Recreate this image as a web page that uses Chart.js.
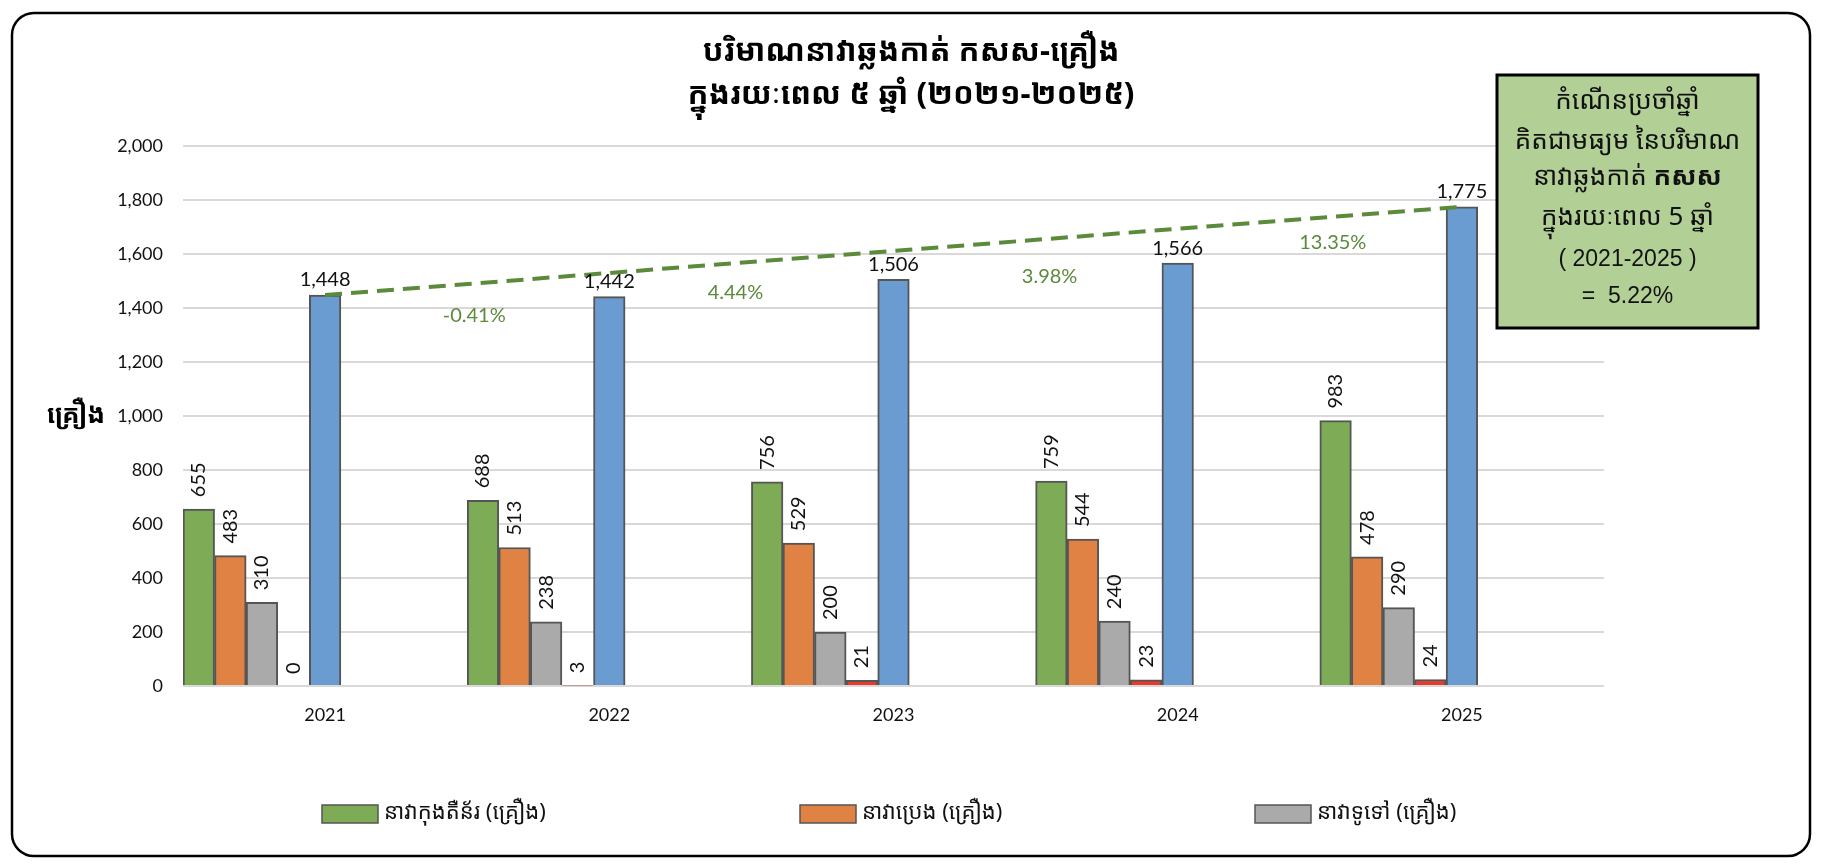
<!DOCTYPE html>
<html>
<head>
<meta charset="utf-8">
<title>បរិមាណនាវាឆ្លងកាត់ កសស</title>
<script src="https://cdn.jsdelivr.net/npm/chart.js@4.4.1/dist/chart.umd.min.js"></script>
<style>
  html, body { margin: 0; padding: 0; background: #fff; }
  canvas { display: block; }
</style>
</head>
<body>
<canvas id="ship-chart" width="1822" height="866"></canvas>
<script>
const years = ['2021', '2022', '2023', '2024', '2025'];
const containerShips = [655, 688, 756, 759, 983];
const tankerShips = [483, 513, 529, 544, 478];
const generalShips = [310, 238, 200, 240, 290];
const otherShips = [0, 3, 21, 23, 24];
const totalShips = [1448, 1442, 1506, 1566, 1775];
const growthLabels = ['-0.41%', '4.44%', '3.98%', '13.35%'];
const yTicks = [0, 200, 400, 600, 800, 1000, 1200, 1400, 1600, 1800, 2000];

const titleLines = ['បរិមាណនាវាឆ្លងកាត់ កសស-គ្រឿង', 'ក្នុងរយៈពេល ៥ ឆ្នាំ (២០២១-២០២៥)'];
const yTitle = 'គ្រឿង';
const seriesNames = ['នាវាកុងតឺន័រ (គ្រឿង)', 'នាវាប្រេង (គ្រឿង)', 'នាវាទូទៅ (គ្រឿង)', 'នាវាផ្សេងៗ', 'សរុប'];

const khmerFont = "'Noto Sans Khmer', 'Khmer OS', 'Noto Sans', 'DejaVu Sans', sans-serif";
const numFont = "Lato, 'Open Sans', sans-serif";
const trendColor = '#5b8a3b';
const barBorder = '#555555';

// straight trend from first to last total
const trendLine = totalShips.map((v, i) => (i === 0 || i === totalShips.length - 1) ? v : null);

function barSet(label, data, color) {
    return {
        type: 'bar',
        label: label,
        data: data,
        backgroundColor: color,
        borderColor: barBorder,
        borderWidth: 2,
        order: 1
    };
}

// 9 slots per year like the source sheet; last four are empty
const emptySlot = years.map(() => null);

const datasets = [
    barSet(seriesNames[0], containerShips, '#7eab55'),
    barSet(seriesNames[1], tankerShips, '#e08243'),
    barSet(seriesNames[2], generalShips, '#aaaaaa'),
    barSet(seriesNames[3], otherShips, '#e8392b'),
    barSet(seriesNames[4], totalShips, '#6a9bd1'),
    barSet('', emptySlot, 'transparent'),
    barSet('', emptySlot, 'transparent'),
    barSet('', emptySlot, 'transparent'),
    barSet('', emptySlot, 'transparent'),
    {
        type: 'line',
        label: 'trend',
        data: trendLine,
        spanGaps: true,
        borderColor: trendColor,
        borderWidth: 4,
        borderDash: [17, 9],
        pointRadius: 0,
        fill: false,
        order: 0
    }
];

const decor = {
    id: 'decor',
    beforeDraw(chart) {
        const c = chart.ctx;
        c.save();
        c.fillStyle = '#fff';
        c.fillRect(0, 0, chart.width, chart.height);
        c.beginPath();
        c.roundRect(12, 13, 1798, 843, 22);
        c.lineWidth = 2.5;
        c.strokeStyle = '#000';
        c.stroke();
        c.restore();
    },
    afterDatasetsDraw(chart) {
        const c = chart.ctx;
        const xs = chart.scales.x;
        const ys = chart.scales.y;
        c.save();
        c.fillStyle = '#111';
        c.font = '20px ' + numFont;
        // value labels
        for (let d = 0; d < 5; d++) {
            const meta = chart.getDatasetMeta(d);
            meta.data.forEach((bar, i) => {
                const v = chart.data.datasets[d].data[i];
                const txt = v.toLocaleString('en-US');
                if (d === 4) {
                    c.textAlign = 'center';
                    c.textBaseline = 'bottom';
                    c.fillText(txt, bar.x, bar.y - 5);
                } else {
                    c.save();
                    c.translate(bar.x, bar.y - 12);
                    c.rotate(-Math.PI / 2);
                    c.textAlign = 'left';
                    c.textBaseline = 'middle';
                    c.fillText(txt, 0, 0);
                    c.restore();
                }
            });
        }
        // growth labels under the trend line
        const dx = [7, -16, 14, 13];
        const dy = [32, 31, 37, 25];
        const first = totalShips[0], last = totalShips[totalShips.length - 1];
        c.fillStyle = trendColor;
        c.textAlign = 'center';
        c.textBaseline = 'middle';
        growthLabels.forEach((g, i) => {
            const x0 = xs.getPixelForValue(i), x1 = xs.getPixelForValue(i + 1);
            const mid = (x0 + x1) / 2;
            const t = (i + 0.5) / (years.length - 1);
            const yv = first + (last - first) * t;
            c.fillText(g, mid + dx[i], ys.getPixelForValue(yv) + dy[i]);
        });
        c.restore();
    },
    afterDraw(chart) {
        const c = chart.ctx;
        const ys = chart.scales.y;
        c.save();
        // title
        c.fillStyle = '#000';
        c.textAlign = 'center';
        c.textBaseline = 'middle';
        c.font = 'bold 31px ' + khmerFont;
        c.fillText(titleLines[0], chart.width / 2, 52);
        c.fillText(titleLines[1], chart.width / 2, 95);

        // y axis title, horizontal
        c.font = 'bold 26px ' + khmerFont;
        c.fillText(yTitle, 76, ys.getPixelForValue(1000));

        // legend (first three series only)
        const starts = [322, 800, 1255];
        c.textAlign = 'left';
        c.font = '22px ' + khmerFont;
        for (let i = 0; i < 3; i++) {
            const ds = chart.data.datasets[i];
            c.fillStyle = ds.backgroundColor;
            c.fillRect(starts[i], 805, 56, 18);
            c.strokeStyle = barBorder;
            c.lineWidth = 1.5;
            c.strokeRect(starts[i], 805, 56, 18);
            c.fillStyle = '#111';
            c.fillText(ds.label, starts[i] + 62, 813);
        }

        // note box
        const bx = 1497, by = 75, bw = 261, bh = 253;
        c.fillStyle = '#b2cf96';
        c.fillRect(bx, by, bw, bh);
        c.strokeStyle = '#000';
        c.lineWidth = 3;
        c.strokeRect(bx, by, bw, bh);
        const cx = bx + bw / 2;
        c.fillStyle = '#111';
        c.textAlign = 'center';
        c.font = '26px ' + khmerFont;
        c.fillText('កំណើនប្រចាំឆ្នាំ', cx, 102);
        c.fillText('គិតជាមធ្យម នៃបរិមាណ', cx, 142);
        // line with bold part
        const partA = 'នាវាឆ្លងកាត់ ';
        const partB = 'កសស';
        c.font = '26px ' + khmerFont;
        const wa = c.measureText(partA).width;
        c.font = 'bold 26px ' + khmerFont;
        const wb = c.measureText(partB).width;
        const sx = cx - (wa + wb) / 2;
        c.textAlign = 'left';
        c.font = '26px ' + khmerFont;
        c.fillText(partA, sx, 178);
        c.font = 'bold 26px ' + khmerFont;
        c.fillText(partB, sx + wa, 178);
        c.textAlign = 'center';
        c.font = '26px ' + khmerFont;
        c.fillText('ក្នុងរយៈពេល 5 ឆ្នាំ', cx, 218);
        c.font = "23px 'Liberation Sans', Arial, sans-serif";
        c.fillText('( 2021-2025 )', cx, 260);
        c.fillText('=  5.22%', cx, 297);
        c.restore();
    }
};

const chart = new Chart(document.getElementById('ship-chart').getContext('2d'), {
    type: 'bar',
    data: { labels: years, datasets: datasets },
    options: {
        responsive: false,
        animation: false,
        layout: { padding: { left: 83, right: 218, top: 146, bottom: 130 } },
        datasets: { bar: { categoryPercentage: 1.0, barPercentage: 1.0 } },
        plugins: {
            legend: { display: false },
            title: { display: false },
            tooltip: { enabled: false }
        },
        scales: {
            x: {
                grid: { display: false, drawTicks: false },
                border: { display: false },
                ticks: { color: '#111', font: { family: numFont, size: 18 }, padding: 18 },
                afterFit(s) { s.height = 50; }
            },
            y: {
                min: 0,
                max: 2000,
                afterBuildTicks(s) { s.ticks = yTicks.map(v => ({ value: v })); },
                grid: { color: '#d9d9d9', lineWidth: 2, drawTicks: false },
                border: { display: false },
                ticks: {
                    color: '#111',
                    font: { family: numFont, size: 18 },
                    padding: 20,
                    callback: v => v.toLocaleString('en-US')
                },
                afterFit(s) { s.width = 100; }
            }
        }
    },
    plugins: [decor]
});
</script>
</body>
</html>
